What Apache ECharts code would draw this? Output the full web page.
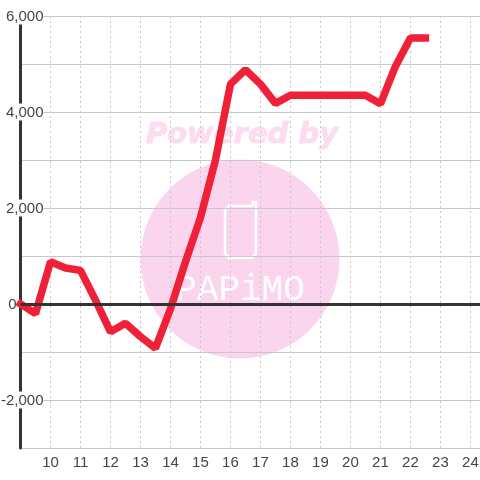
<!DOCTYPE html>
<html>
<head>
<meta charset="utf-8">
<style>
html, body { margin: 0; padding: 0; background: #fff; }
#chart { width: 480px; height: 480px; }
</style>
<script src="https://cdn.jsdelivr.net/npm/echarts@6/dist/echarts.min.js"></script>
</head>
<body>
<div id="chart"></div>
<script>
// half hour steps from 9:00
var hours = [9, 9.5, 10, 10.5, 11, 11.5, 12, 12.5, 13, 13.5, 14, 14.5, 15, 15.5, 16, 16.5, 17, 17.5, 18, 18.5, 19, 19.5, 20, 20.5, 21, 21.5, 22, 22.5];
var values = [0, -200, 880, 750, 700, 80, -580, -400, -680, -920, -100, 880, 1800, 3000, 4580, 4880, 4580, 4180, 4350, 4350, 4350, 4350, 4350, 4350, 4170, 4950, 5540, 5540];
var pink = "#fbd5ee";
var gridGray = "#c8c8c8";
var axisDark = "#333333";
var labelColor = "#444444";

var myChart = echarts.init(document.getElementById("chart"));
myChart.setOption({
  animation: false,
  backgroundColor: "#fff",
  grid: { left: 20.5, right: 0, top: 16, bottom: 32, containLabel: false, outerBoundsMode: "none" },
  // watermark sits under the grid lines
  graphic: [
    { type: "circle", z: -10, shape: { cx: 240, cy: 259, r: 99.5 }, style: { fill: pink } },
    {
      type: "text", z: -10, x: 242, y: 135,
      style: { text: "Powered by", fill: "#fcdcf1", stroke: "#fcdcf1", lineWidth: 1, font: "italic bold 29px 'DejaVu Sans'", align: "center", verticalAlign: "middle" }
    },
    {
      type: "polyline", z: -9,
      shape: { points: [[253, 206], [229, 206], [225, 210], [225, 254], [229, 258], [252, 258], [256, 254], [256, 202], [253, 202], [253, 206]] },
      style: { stroke: "#fff", lineWidth: 2.5, fill: null }
    },
    {
      type: "text", z: -9, x: 240, y: 290,
      style: { text: "PAPiMO", fill: "#fff", font: "36px 'Liberation Mono'", align: "center", verticalAlign: "middle" }
    }
  ],
  xAxis: {
    type: "value",
    min: 9,
    max: 24.32,
    interval: 1,
    axisLine: { show: false },
    axisTick: { show: false },
    axisLabel: {
      showMinLabel: false,
      showMaxLabel: false,
      color: labelColor,
      fontFamily: "Liberation Sans",
      fontSize: 15,
      margin: 7
    },
    splitLine: { showMinLine: false, showMaxLine: false, lineStyle: { color: gridGray, type: [2, 3], width: 1 } }
  },
  yAxis: {
    type: "value",
    min: -3000,
    max: 6000,
    interval: 1000,
    axisLine: { show: true, onZero: false, lineStyle: { color: axisDark, width: 3 } },
    axisTick: { show: false },
    axisLabel: {
      inside: true,
      margin: 23,
      align: "right",
      showMinLabel: false,
      formatter: function(value) {
        if (value % 2000 !== 0) {
          return "";
        }
        return value === 0 ? "{zero|0}" : "{lab|" + echarts.format.addCommas(value) + "}";
      },
      // labels sit over the axis line, only the zero one stays left of it
      rich: {
        lab: { color: labelColor, fontFamily: "Liberation Sans", fontSize: 15, lineHeight: 16, padding: [2, 0, 0, 0], backgroundColor: "#fff" },
        zero: { color: labelColor, fontFamily: "Liberation Sans", fontSize: 15, lineHeight: 16, padding: [2, 27, 0, 0] }
      }
    },
    splitLine: { lineStyle: { color: gridGray, width: 1 } }
  },
  series: [
    {
      type: "line",
      data: hours.map(function(h, i) { return [h, values[i]]; }),
      showSymbol: false,
      clip: false,
      lineStyle: { color: "#f02038", width: 7.5, cap: "square", join: "bevel" },
      markLine: {
        silent: true,
        symbol: "none",
        label: { show: false },
        lineStyle: { color: axisDark, width: 3, type: "solid" },
        data: [{ yAxis: 0 }]
      }
    }
  ]
});
</script>
</body>
</html>
